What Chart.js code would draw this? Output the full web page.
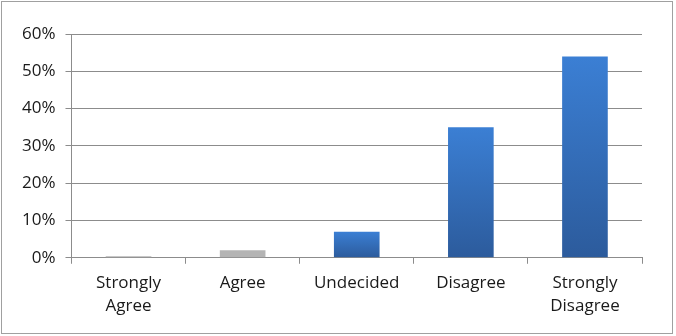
<!DOCTYPE html>
<html>
<head>
<meta charset="utf-8">
<script src="https://cdn.jsdelivr.net/npm/chart.js@4"></script>
<style>
  html, body { margin: 0; padding: 0; background: #fff; }
  #wrap { position: absolute; left: 1px; top: 1px; width: 670px; height: 331px; border: 1px solid #a0a0a0; }
  canvas { position: absolute; left: 0; top: 0; }
</style>
</head>
<body>
<div id="wrap"><canvas id="chart" width="670" height="331"></canvas></div>
<script>
const categories = [['Strongly', 'Agree'], 'Agree', 'Undecided', 'Disagree', ['Strongly', 'Disagree']];
const percents = [0.4, 2, 7, 35, 54];
const yTicks = [0, 10, 20, 30, 40, 50, 60];

function barFill(ctx) {
  const i = ctx.dataIndex;
  const chart = ctx.chart;
  if (i < 2) return '#b4b4b4';
  if (!chart.chartArea || !chart.scales.y) return '#3572c0';
  const top = chart.scales.y.getPixelForValue(percents[i]);
  const bottom = chart.scales.y.getPixelForValue(0);
  const g = chart.ctx.createLinearGradient(0, top, 0, bottom);
  g.addColorStop(0, '#3b7fd4');
  g.addColorStop(1, '#2c5b9c');
  return g;
}

const font = { family: 'Open Sans', size: 17, lineHeight: 1.33 };

new Chart(document.getElementById('chart'), {
  type: 'bar',
  data: {
    labels: categories,
    datasets: [{
      data: percents,
      backgroundColor: barFill,
      borderWidth: 0,
      categoryPercentage: 1,
      barPercentage: 0.4
    }]
  },
  options: {
    responsive: false,
    animation: false,
    layout: { padding: { left: 10, right: 30, top: 32, bottom: 8 } },
    plugins: { legend: { display: false }, tooltip: { enabled: false } },
    scales: {
      x: {
        grid: { drawOnChartArea: false, tickLength: 6, color: '#8c8c8c', offset: true },
        border: { color: '#8c8c8c' },
        ticks: { color: '#1a1a1a', font, padding: 8, maxRotation: 0 }
      },
      y: {
        min: 0,
        max: 60,
        afterBuildTicks: axis => { axis.ticks = yTicks.map(v => ({ value: v })); },
        grid: { color: '#8c8c8c', tickLength: 6 },
        border: { color: '#8c8c8c' },
        ticks: { color: '#1a1a1a', font, padding: 10, callback: v => v + '%' }
      }
    }
  }
});
</script>
</body>
</html>
